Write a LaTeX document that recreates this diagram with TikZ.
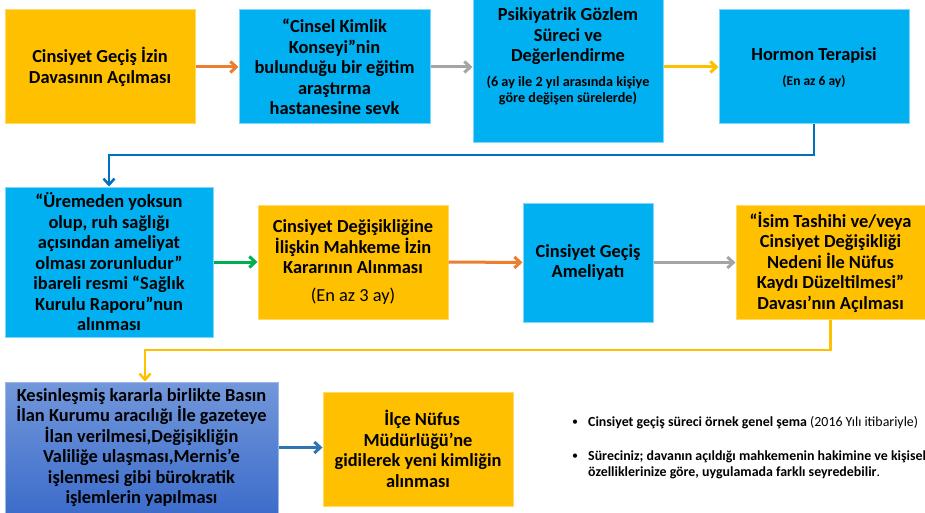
\documentclass[tikz,border=0pt]{standalone}
\usepackage{fontspec}
\setmainfont{Carlito}
\usetikzlibrary{arrows.meta}
\definecolor{boxorange}{HTML}{FFC000}
\definecolor{boxorangeedge}{HTML}{FFD966}
\definecolor{boxblue}{HTML}{00B0F0}
\definecolor{boxblueedge}{HTML}{7FD8F8}
\definecolor{deeptop}{HTML}{7297DA}
\definecolor{deepbot}{HTML}{3D6DCB}
\definecolor{deepedge}{HTML}{9DB6E4}
\definecolor{arrorange}{HTML}{ED7D31}
\definecolor{arrgray}{HTML}{A5A5A5}
\definecolor{arryellow}{HTML}{FFC000}
\definecolor{arrblue}{HTML}{0070C0}
\definecolor{arrblue2}{HTML}{2E75B6}
\definecolor{arrgreen}{HTML}{00B050}
\begin{document}
\begin{tikzpicture}[x=1pt,y=-1pt,
  box/.style={rectangle, inner sep=0pt, align=center, line width=1pt,
    font=\fontsize{18.4}{20.5}\selectfont\bfseries},
  obox/.style={box, fill=boxorange, draw=boxorangeedge},
  bbox/.style={box, fill=boxblue, draw=boxblueedge},
  dbox/.style={box, top color=deeptop, bottom color=deepbot, draw=deepedge},
  inner/.style={inner sep=0pt, align=center, font=\fontsize{18.4}{20.5}\selectfont\bfseries},
  small/.style={inner sep=0pt, align=center, font=\fontsize{14.2}{16}\selectfont\bfseries},
  flow/.style={line width=3pt, -{Straight Barb[length=6pt,width=11pt]}},
  link/.style={line width=2.5pt, -{Straight Barb[length=6pt,width=11pt]}},
  note/.style={anchor=west, inner sep=0pt, align=left, font=\fontsize{13.9}{16}\selectfont}
]
\useasboundingbox (0,0) rectangle (925,513);
\fill[white] (0,0) rectangle (925,513);

% row 1
\node[obox, minimum width=190pt, minimum height=114pt] (b1) at (100,67)
  {Cinsiyet Geçiş İzin\\Davasının Açılması};
\node[bbox, minimum width=191pt, minimum height=114pt] (b2) at (334.5,67)
  {“Cinsel Kimlik\\Konseyi”nin\\bulunduğu bir eğitim\\araştırma\\hastanesine sevk};
\node[bbox, minimum width=190pt, minimum height=143pt] (b3) at (568,71.5) {};
\node[inner] (b3t) at (568,36.5) {Psikiyatrik Gözlem\\Süreci ve\\Değerlendirme};
\node[small] (b3s) at (568,90) {(6 ay ile 2 yıl arasında kişiye\\göre değişen sürelerde)};
\node[bbox, minimum width=190pt, minimum height=114pt] (b4) at (814,67) {};
\node[inner] (b4t) at (814,55) {Hormon Terapisi};
\node[small, font=\fontsize{13.5}{16}\selectfont\bfseries] (b4s) at (814,81.5) {(En az 6 ay)};

% row 2
\node[bbox, minimum width=208pt, minimum height=150pt] (b5) at (109,262)
  {“Üremeden yoksun\\olup, ruh sağlığı\\açısından ameliyat\\olması zorunludur”\\ibareli resmi “Sağlık\\Kurulu Raporu”nun\\alınması};
\node[obox, minimum width=190pt, minimum height=114pt] (b6) at (353,262)
  {Cinsiyet Değişikliğine\\İlişkin Mahkeme İzin\\Kararının Alınması\\[7pt]\mdseries (En az 3 ay)};
\node[bbox, minimum width=130pt, minimum height=119pt] (b7) at (588,262.5)
  {Cinsiyet Geçiş\\Ameliyatı};
\node[obox, minimum width=189pt, minimum height=114pt] (b8) at (830.5,262)
  {“İsim Tashihi ve/veya\\Cinsiyet Değişikliği\\Nedeni İle Nüfus\\Kaydı Düzeltilmesi”\\Davası’nın Açılması};

% row 3
\node[dbox, minimum width=273pt, minimum height=131pt] (b9) at (141.5,447.5)
  {Kesinleşmiş kararla birlikte Basın\\İlan Kurumu aracılığı İle gazeteye\\İlan verilmesi,Değişikliğin\\Valiliğe ulaşması,Mernis’e\\işlenmesi gibi bürokratik\\işlemlerin yapılması};
\node[obox, minimum width=190pt, minimum height=114pt] (b10) at (418,449)
  {\ \ İlçe Nüfus\\Müdürlüğü’ne\\gidilerek yeni kimliğin\\alınması};

% notes
\node[anchor=center, inner sep=0pt, font=\fontsize{12}{16}\selectfont] (d1) at (575,423) {•};
\node[note] (n1) at (588,423) {\bfseries Cinsiyet geçiş süreci örnek genel şema\mdseries{} (2016 Yılı itibariyle)};
\node[anchor=center, inner sep=0pt, font=\fontsize{12}{16}\selectfont] (d2) at (575,457) {•};
\node[note, anchor=north west, font=\fontsize{13.9}{16}\selectfont\bfseries] (n2) at (588,450.5)
  {Süreciniz; davanın açıldığı mahkemenin hakimine ve kişisel\\özelliklerinize göre, uygulamada farklı seyredebilir\mdseries .};

% connectors
\coordinate (j1) at (0,155);
\coordinate (j2) at (145,350);
\draw[flow, arrorange] (b1.east) -- (b2.west);
\draw[flow, arrgray] (b2.east) -- (b2.east -| b3.west);
\draw[flow, arryellow] (b3.east |- b4.west) -- (b4.west);
\draw[link, arrblue] (b4.south) -- (b4.south |- j1) -| (b5.north);
\draw[flow, arrgreen] (b5.east) -- (b6.west);
\draw[flow, arrorange] (b6.east) -- (b7.west);
\draw[flow, arrgray] (b7.east) -- (b7.east -| b8.west);
\draw[link, arryellow] (b8.south) -- (b8.south |- j2) -- (j2) -- (j2 |- b9.north);
\draw[flow, arrblue2] (b9.east) -- (b9.east -| b10.west);
\end{tikzpicture}
\end{document}
